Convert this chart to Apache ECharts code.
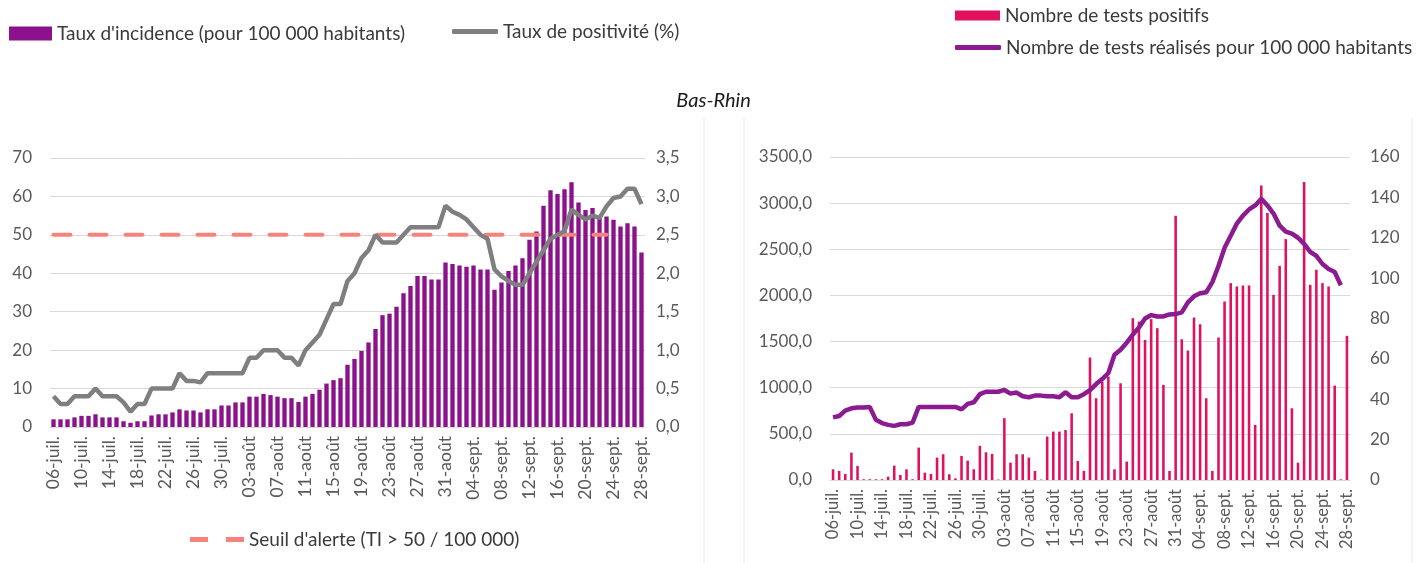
<!DOCTYPE html>
<html>
<head>
<meta charset="utf-8">
<script src="https://cdn.jsdelivr.net/npm/echarts@6/dist/echarts.min.js"></script>
<style>
  html, body { margin: 0; padding: 0; background: #fff; }
  #chart { width: 1427px; height: 563px; }
</style>
</head>
<body>
<div id="chart"></div>
<script>
const categories = [
  '06-juil.', '07-juil.', '08-juil.', '09-juil.', '10-juil.', '11-juil.', '12-juil.', '13-juil.', '14-juil.', '15-juil.',
  '16-juil.', '17-juil.', '18-juil.', '19-juil.', '20-juil.', '21-juil.', '22-juil.', '23-juil.', '24-juil.', '25-juil.',
  '26-juil.', '27-juil.', '28-juil.', '29-juil.', '30-juil.', '31-juil.',
  '01-août', '02-août', '03-août', '04-août', '05-août', '06-août', '07-août', '08-août', '09-août', '10-août',
  '11-août', '12-août', '13-août', '14-août', '15-août', '16-août', '17-août', '18-août', '19-août', '20-août',
  '21-août', '22-août', '23-août', '24-août', '25-août', '26-août', '27-août', '28-août', '29-août', '30-août', '31-août',
  '01-sept.', '02-sept.', '03-sept.', '04-sept.', '05-sept.', '06-sept.', '07-sept.', '08-sept.', '09-sept.', '10-sept.',
  '11-sept.', '12-sept.', '13-sept.', '14-sept.', '15-sept.', '16-sept.', '17-sept.', '18-sept.', '19-sept.', '20-sept.',
  '21-sept.', '22-sept.', '23-sept.', '24-sept.', '25-sept.', '26-sept.', '27-sept.', '28-sept.'
];

// left panel
const incidence = [
  2.0, 2.0, 2.0, 2.5, 2.9, 2.9, 3.3, 2.5, 2.5, 2.5,
  1.5, 1.1, 1.5, 1.5, 3.0, 3.3, 3.3, 3.8, 4.6, 4.3,
  4.3, 3.8, 4.6, 4.6, 5.6, 5.6, 6.4, 6.4, 7.9, 7.9,
  8.6, 8.3, 7.9, 7.5, 7.5, 6.5, 7.9, 8.6, 9.7, 11.3,
  12.2, 12.7, 16.2, 17.7, 19.8, 22.0, 25.5, 29.1, 29.5, 31.3,
  34.8, 36.7, 39.3, 39.3, 38.4, 38.4, 42.8, 42.4, 42.0, 41.7,
  42.0, 41.0, 41.0, 35.7, 37.6, 40.6, 42.0, 43.9, 48.7, 50.9,
  57.6, 61.6, 60.6, 61.9, 63.7, 58.4, 56.5, 57.0, 54.8, 54.8,
  53.9, 52.2, 53.0, 52.2, 45.4
];
const positivite = [
  0.4, 0.3, 0.3, 0.4, 0.4, 0.4, 0.5, 0.4, 0.4, 0.4,
  0.32, 0.2, 0.3, 0.3, 0.5, 0.5, 0.5, 0.5, 0.7, 0.6,
  0.6, 0.58, 0.7, 0.7, 0.7, 0.7, 0.7, 0.7, 0.9, 0.9,
  1.0, 1.0, 1.0, 0.9, 0.9, 0.8, 1.0, 1.1, 1.2, 1.4,
  1.6, 1.6, 1.9, 2.0, 2.2, 2.3, 2.5, 2.4, 2.4, 2.4,
  2.5, 2.6, 2.6, 2.6, 2.6, 2.6, 2.88, 2.8, 2.76, 2.7,
  2.6, 2.5, 2.45, 2.05, 1.96, 1.9, 1.85, 1.85, 2.0, 2.15,
  2.3, 2.45, 2.5, 2.55, 2.83, 2.76, 2.7, 2.75, 2.72, 2.87,
  2.98, 3.0, 3.1, 3.1, 2.9
];
// alert threshold, drawn up to 24-sept.
const seuil = categories.map((c, i) => (i <= 79 ? 50 : null));

// right panel
const testsPositifs = [
  116, 98, 65, 297, 152, 8, 8, 8, 8, 36,
  156, 54, 116, 8, 351, 80, 65, 243, 279, 62,
  18, 261, 210, 116, 370, 300, 283, 5, 670, 188,
  279, 279, 243, 98, 5, 471, 525, 525, 542, 723,
  206, 98, 1327, 886, 1066, 1121, 116, 1048, 199, 1753,
  1717, 1518, 1743, 1645, 1030, 98, 2863, 1525, 1403, 1760,
  1688, 886, 98, 1544, 1934, 2133, 2097, 2108, 2108, 597,
  3192, 2892, 2006, 2321, 2610, 777, 188, 3228, 2115, 2278,
  2133, 2097, 1023, 7, 1562
];
const testsRealises = [
  31, 31.7, 34.4, 35.5, 35.9, 35.9, 36.2, 29.8, 28.2, 27.3,
  26.8, 27.6, 27.6, 28.4, 36.2, 36.2, 36.2, 36.2, 36.2, 36.2,
  36.2, 35, 37.7, 38.5, 42.5, 43.7, 43.7, 43.7, 44.6, 42.8,
  43.3, 41.5, 41, 41.8, 41.8, 41.5, 41.5, 41, 43.5, 41,
  41, 42.5, 44.5, 47.5, 50, 53, 62, 64.5, 68, 72,
  75.5, 80, 81.7, 81, 81, 82, 82.2, 83, 88, 91,
  92.5, 93, 98, 106, 115, 121, 127, 131, 134, 136,
  139.3, 136, 132, 126, 123, 122, 120, 117, 113, 111,
  107, 104.5, 103, 96.5, null
];

const FONT = 'Lato';
const tickColor = '#595959';
const gridColor = '#D9D9D9';

function comma1(v) {
  return v.toFixed(1).replace('.', ',');
}

function xAxisFor(gridIndex, size) {
  return {
    type: 'category',
    gridIndex: gridIndex,
    data: categories,
    axisTick: { show: false },
    axisLine: { lineStyle: { color: gridColor } },
    axisLabel: {
      interval: 3,
      rotate: 90,
      margin: 9,
      color: tickColor,
      fontFamily: FONT,
      fontSize: size
    }
  };
}

function yAxisFor(gridIndex, pos, max, step, fmt, margin, grid) {
  return {
    type: 'value',
    gridIndex: gridIndex,
    position: pos,
    min: 0,
    max: max,
    interval: step,
    axisLine: { show: false },
    axisTick: { show: false },
    splitLine: { show: grid, lineStyle: { color: gridColor, width: 1 } },
    axisLabel: {
      margin: margin,
      color: tickColor,
      fontFamily: FONT,
      fontSize: 17,
      formatter: fmt
    }
  };
}

const legendText = { fontFamily: FONT, fontSize: 19, color: '#3a3a3a' };

var chart = echarts.init(document.getElementById('chart'));
var option = {
  animation: false,
  backgroundColor: '#fff',
  title: {
    text: 'Bas-Rhin',
    left: 'center',
    top: 86,
    textStyle: { fontFamily: FONT, fontSize: 20, fontStyle: 'italic', fontWeight: 'normal', color: '#1a1a1a' }
  },
  legend: [
    {
      data: ["Taux d'incidence (pour 100 000 habitants)"],
      left: 9, top: 24, padding: 0,
      icon: 'rect', itemWidth: 43, itemHeight: 14,
      textStyle: legendText
    },
    {
      data: ['Taux de positivité (%)'],
      left: 452, top: 22, padding: 0,
      icon: 'roundRect', itemWidth: 46, itemHeight: 5,
      textStyle: legendText
    },
    {
      data: ['Nombre de tests positifs'],
      left: 955, top: 6, padding: 0,
      icon: 'rect', itemWidth: 45, itemHeight: 10,
      textStyle: legendText
    },
    {
      data: ['Nombre de tests réalisés pour 100 000 habitants'],
      left: 955, top: 38, padding: 0,
      icon: 'roundRect', itemWidth: 46, itemHeight: 5,
      textStyle: legendText
    },
    {
      data: ["Seuil d'alerte (TI > 50 / 100 000)"],
      left: 190, top: 530, padding: 0,
      icon: 'path://M0,0h18v5h-18z M36,0h18v5h-18z', itemWidth: 54, itemHeight: 5,
      textStyle: legendText
    }
  ],
  grid: [
    { left: 50, width: 595, top: 158, height: 269 },
    { left: 830, width: 520, top: 157, height: 323 }
  ],
  xAxis: [xAxisFor(0, 17.5), xAxisFor(1, 16.5)],
  yAxis: [
    yAxisFor(0, 'left', 70, 10, null, 18, true),
    yAxisFor(0, 'right', 3.5, 0.5, comma1, 11, false),
    yAxisFor(1, 'left', 3500, 500, comma1, 18, true),
    yAxisFor(1, 'right', 160, 20, null, 20, false)
  ],
  graphic: [
    { type: 'line', shape: { x1: 704, y1: 118, x2: 704, y2: 563 }, style: { stroke: '#E8E8E8', lineWidth: 1 } },
    { type: 'line', shape: { x1: 744, y1: 118, x2: 744, y2: 563 }, style: { stroke: '#E8E8E8', lineWidth: 1 } },
    { type: 'line', shape: { x1: 1412, y1: 118, x2: 1412, y2: 563 }, style: { stroke: '#E8E8E8', lineWidth: 1 } }
  ],
  series: [
    {
      name: "Taux d'incidence (pour 100 000 habitants)",
      type: 'bar',
      xAxisIndex: 0, yAxisIndex: 0,
      data: incidence,
      barWidth: '62%',
      itemStyle: { color: '#8C118C' }
    },
    {
      name: "Seuil d'alerte (TI > 50 / 100 000)",
      type: 'line',
      xAxisIndex: 0, yAxisIndex: 0,
      data: seuil,
      symbol: 'none',
      itemStyle: { color: '#F7827C' },
      lineStyle: { color: '#F7827C', width: 4, type: [17, 19], cap: 'round' }
    },
    {
      name: 'Taux de positivité (%)',
      type: 'line',
      xAxisIndex: 0, yAxisIndex: 1,
      data: positivite,
      symbol: 'none',
      itemStyle: { color: '#7F7F7F' },
      lineStyle: { color: '#7F7F7F', width: 4.5 }
    },
    {
      name: 'Nombre de tests positifs',
      type: 'bar',
      xAxisIndex: 1, yAxisIndex: 2,
      data: testsPositifs,
      barWidth: '42%',
      itemStyle: { color: '#E0115F' }
    },
    {
      name: 'Nombre de tests réalisés pour 100 000 habitants',
      type: 'line',
      xAxisIndex: 1, yAxisIndex: 3,
      data: testsRealises,
      symbol: 'none',
      itemStyle: { color: '#8C1A91' },
      lineStyle: { color: '#8C1A91', width: 4.5 }
    }
  ]
};
option && chart.setOption(option);
</script>
</body>
</html>
